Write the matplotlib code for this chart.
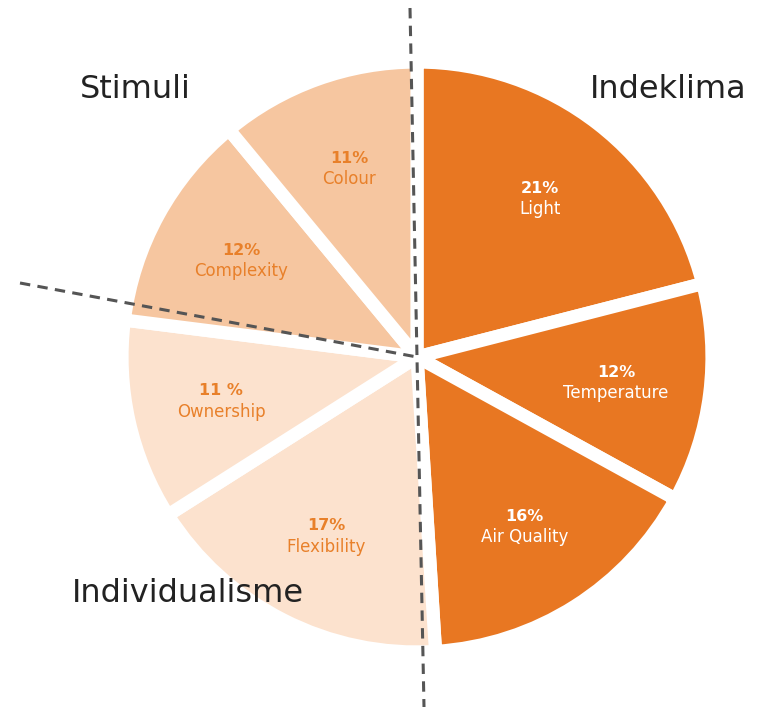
import matplotlib
matplotlib.use('Agg')
import matplotlib.pyplot as plt
import numpy as np

# slices, clockwise from the top
names = ['Light', 'Temperature', 'Air Quality', 'Flexibility', 'Ownership', 'Complexity', 'Colour']
shares = [21, 12, 16, 17, 11, 12, 11]
pct_labels = ['21%', '12%', '16%', '17%', '11 %', '12%', '11%']
groups = ['Indeklima', 'Indeklima', 'Indeklima', 'Individualisme', 'Individualisme', 'Stimuli', 'Stimuli']

group_colors = {'Indeklima': '#E87722', 'Stimuli': '#F6C6A0', 'Individualisme': '#FCE2CE'}
text_colors = {'Indeklima': 'white', 'Stimuli': '#E8802A', 'Individualisme': '#E8802A'}

W, H = 758, 707
fig = plt.figure(figsize=(W / 100, H / 100), dpi=100)
ax = fig.add_axes([0, 0, 1, 1])

cx, cy = 417, 350
R = 295
wedges, _ = ax.pie(shares, startangle=90, counterclock=False, center=(cx, cy), radius=R,
                   colors=[group_colors[g] for g in groups], frame=True,
                   wedgeprops=dict(edgecolor='white', linewidth=9.5))

for w, pct, name, g in zip(wedges, pct_labels, names, groups):
    mid = np.deg2rad((w.theta1 + w.theta2) / 2)
    x = cx + 0.68 * R * np.cos(mid)
    y = cy + 0.68 * R * np.sin(mid)
    ax.text(x, y + 10, pct, ha='center', va='center', fontsize=11.5, fontweight='bold',
            color=text_colors[g])
    ax.text(x, y - 11, name, ha='center', va='center', fontsize=12, color=text_colors[g])

# dashed separators between the groups
dash = (0, (3.4, 2.4))
ax.plot([410, 424], [699, 0], ls=dash, lw=2.2, color='#555555', zorder=5)
ax.plot([20, cx], [424, cy], ls=dash, lw=2.2, color='#555555', zorder=5)

ax.text(135, H - 90, 'Stimuli', ha='center', va='center', fontsize=23, color='#222222')
ax.text(668, H - 90, 'Indeklima', ha='center', va='center', fontsize=23, color='#222222')
ax.text(188, H - 593, 'Individualisme', ha='center', va='center', fontsize=23, color='#222222')

ax.set_xlim(0, W)
ax.set_ylim(0, H)
ax.set_aspect('equal')
ax.axis('off')

fig.savefig('out.png', dpi=100)
